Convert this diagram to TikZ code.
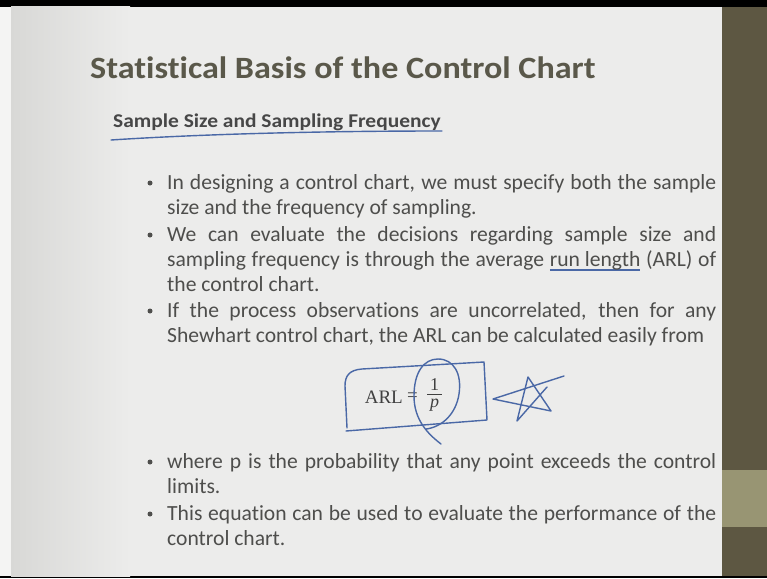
\documentclass[tikz,border=0pt]{standalone}
\usepackage{fontspec}
\usetikzlibrary{calc}
\setmainfont{Carlito}[Ligatures=CommonOff]
\newfontfamily\formulafont{Liberation Serif}

\definecolor{slidebg}{RGB}{236,236,235}
\definecolor{slideedge}{RGB}{216,216,214}
\definecolor{stripdark}{RGB}{93,87,66}
\definecolor{striplight}{RGB}{152,149,115}
\definecolor{titlecol}{RGB}{90,88,74}
\definecolor{bodytext}{RGB}{78,78,76}
\definecolor{ink}{RGB}{74,104,166}

% hand-drawn underline beneath a word group
\newcommand{\inkunder}[1]{\setbox0\hbox{#1}\rlap{\color{ink}\raisebox{-4.5pt}{\rule{\wd0}{1.3pt}}}\box0\relax}

\tikzset{
  textline/.style={anchor=base west, inner sep=0pt, text=bodytext,
    font=\fontsize{21.6}{25}\selectfont},
  bulletmark/.style={circle, fill=bodytext, inner sep=0pt, minimum size=5pt},
  inkstroke/.style={draw=ink, line width=1.4pt, line cap=round, line join=round},
  formula/.style={inner sep=0pt, text=black!75, font=\formulafont\fontsize{19}{22}\selectfont}
}

\begin{document}
\begin{tikzpicture}[x=1pt,y=-1pt]
\useasboundingbox (0,0) rectangle (767,578);

% frame, slide and side strip
\fill[black] (0,0) rectangle (767,578);
\fill[slidebg] (0,7) rectangle (722,576);
\shade[left color=slideedge, right color=slidebg] (11,7) rectangle (130,576);
\fill[slidebg!60!white] (0,7) rectangle (11,576);
\fill[stripdark] (722,7) rectangle (767,576);
\fill[striplight] (722,470) rectangle (767,527);

% headings
\node[anchor=base west, inner sep=0pt, text=titlecol,
  font=\bfseries\fontsize{31}{36}\selectfont] (title) at (90,78)
  {\scalebox{1.1}[1]{Statistical Basis of the Control Chart}};
\node[anchor=base west, inner sep=0pt, text=black!72,
  font=\bfseries\fontsize{19.5}{23}\selectfont] (subtitle) at (113,127)
  {\scalebox{1.1}[1]{Sample Size and Sampling Frequency}};
\draw[inkstroke] ([shift={(-2,13)}]subtitle.base west)
  .. controls ([shift={(90,7)}]subtitle.base west) and ([shift={(-120,4)}]subtitle.base east)
  .. ([shift={(1,4)}]subtitle.base east);

% bullet list
\node[bulletmark] (b1) at (150,183) {};
\node[textline] (l1) at (167,189) {\makebox[549pt][s]{In designing a control chart, we must specify both the sample}};
\node[textline] (l2) at (167,214) {size and the frequency of sampling.};

\node[bulletmark] (b2) at (150,235) {};
\node[textline] (l3) at (167,241) {\makebox[549pt][s]{We can evaluate the decisions regarding sample size and}};
\node[textline] (l4) at (167,266) {\makebox[549pt][s]{sampling frequency is through the average \inkunder{run length} (ARL) of}};
\node[textline] (l5) at (167,291) {the control chart.};

\node[bulletmark] (b3) at (150,311) {};
\node[textline] (l6) at (167,317) {\makebox[549pt][s]{If the process observations are uncorrelated, then for any}};
\node[textline] (l7) at (167,342) {Shewhart control chart, the ARL can be calculated easily from};

% formula ARL = 1/p
\node[formula, anchor=east] (arl) at (403,397) {ARL};
\node[formula, anchor=west] (eq) at (407,397) {=};
\coordinate (barL) at (427,394);
\coordinate (barR) at (442,394);
\draw[black!75, line width=0.7pt] (barL) -- (barR);
\node[formula, anchor=south, font=\formulafont\fontsize{18}{20}\selectfont] (num) at ([yshift=3.5]$(barL)!0.5!(barR)$) {1};
\node[formula, anchor=north, font=\formulafont\itshape\fontsize{18}{20}\selectfont] (den) at ([yshift=-4.5]$(barL)!0.5!(barR)$) {p};

% ink marks round the formula
\draw[inkstroke] (346,431) -- (487,420) -- (484,362) -- (362,369)
  .. controls (349,370) and (345,376) .. (345,386) -- (347,428);
\draw[inkstroke] (441,444) .. controls (428,434) and (414,420) .. (414,396)
  .. controls (414,372) and (424,359) .. (438,359)
  .. controls (454,359) and (462,374) .. (459,394)
  .. controls (456,414) and (442,427) .. (426,429);
\draw[inkstroke] (564,376) -- (493,399) -- (551,411) -- (528,377) -- (517,421) -- (547,387);

\node[bulletmark] (b4) at (150,462) {};
\node[textline] (l8) at (167,468) {\makebox[549pt][s]{where p is the probability that any point exceeds the control}};
\node[textline] (l9) at (167,493) {limits.};

\node[bulletmark] (b5) at (150,514) {};
\node[textline] (l10) at (167,520) {\makebox[549pt][s]{This equation can be used to evaluate the performance of the}};
\node[textline] (l11) at (167,545) {control chart.};
\end{tikzpicture}
\end{document}
